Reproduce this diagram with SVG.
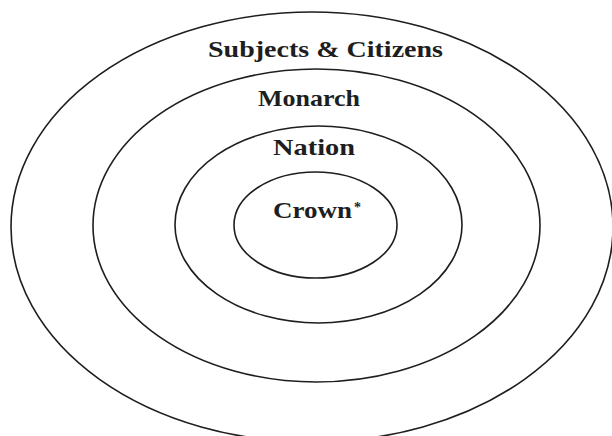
<svg xmlns="http://www.w3.org/2000/svg" width="612" height="436" viewBox="0 0 612 436">
<style>
.ring{fill:none;stroke:#1e1e1e;stroke-width:1.6}
.lbl{font-family:"Liberation Serif","Times New Roman",serif;font-weight:bold;font-size:23px;fill:#1e1e1e}
</style>
<rect width="612" height="436" fill="#ffffff"/>
<g id="subjects">
<ellipse class="ring" cx="312" cy="227" rx="301" ry="215"/>
<text class="lbl" x="208" y="57" textLength="235" lengthAdjust="spacingAndGlyphs">Subjects &amp; Citizens</text>
</g>
<g id="monarch">
<ellipse class="ring" cx="316.5" cy="225.5" rx="223.5" ry="156.5"/>
<text class="lbl" x="258" y="106" textLength="102" lengthAdjust="spacingAndGlyphs">Monarch</text>
</g>
<g id="nation">
<ellipse class="ring" cx="318.5" cy="224.5" rx="143.5" ry="98.5"/>
<text class="lbl" x="273" y="155" textLength="82" lengthAdjust="spacingAndGlyphs">Nation</text>
</g>
<g id="crown">
<ellipse class="ring" cx="315.5" cy="225" rx="81.5" ry="53"/>
<text class="lbl" x="273" y="218"><tspan textLength="79" lengthAdjust="spacingAndGlyphs">Crown</tspan><tspan dx="2" dy="-6" font-size="14">*</tspan></text>
</g>
<g id="connectors"></g>
</svg>
